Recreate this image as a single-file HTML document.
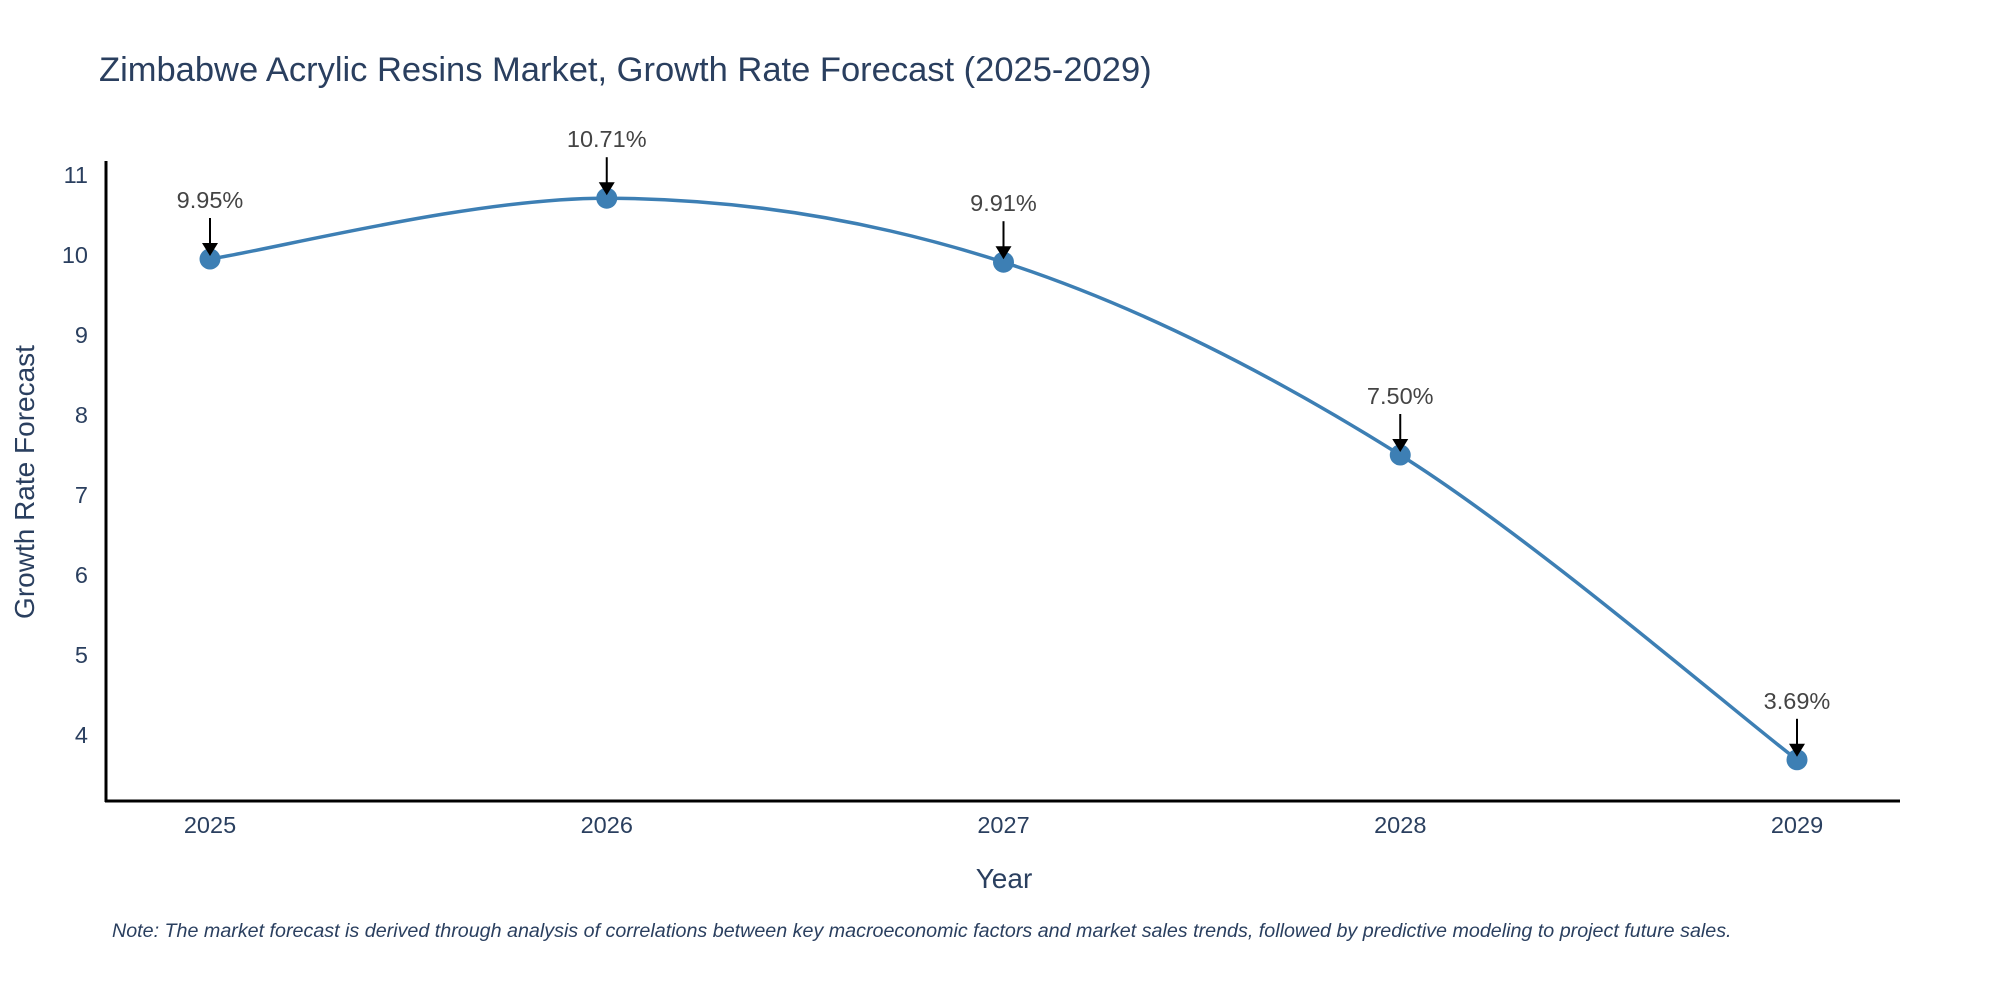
<!DOCTYPE html>
<html><head><meta charset="utf-8"><style>
html,body{margin:0;padding:0;background:#fff;}
svg{display:block;font-family:"Liberation Sans",sans-serif;}
</style></head><body>
<svg id="chart" width="2000" height="1000" viewBox="0 0 2000 1000">
<text x="99" y="81" font-size="34.5" fill="#2a3f5f">Zimbabwe Acrylic Resins Market, Growth Rate Forecast (2025-2029)</text>
<g id="yticks"></g>
<g id="xticks"></g>
<line x1="106" y1="161" x2="106" y2="802" stroke="#000" stroke-width="3"/>
<line x1="105" y1="801" x2="1900" y2="801" stroke="#000" stroke-width="3"/>
<path id="line" fill="none" stroke="#3d7fb4" stroke-width="3.5"/>
<g id="marks"></g>
<text transform="translate(34,482) rotate(-90)" text-anchor="middle" font-size="28" fill="#2a3f5f">Growth Rate Forecast</text>
<text x="1004" y="888" text-anchor="middle" font-size="28" fill="#2a3f5f">Year</text>
<text x="112" y="937" font-size="19.7" font-style="italic" fill="#2a3f5f">Note: The market forecast is derived through analysis of correlations between key macroeconomic factors and market sales trends, followed by predictive modeling to project future sales.</text>
</svg>
<script>
const years = [2025, 2026, 2027, 2028, 2029];
const values = [9.95, 10.71, 9.91, 7.50, 3.69];
const labels = ["9.95%", "10.71%", "9.91%", "7.50%", "3.69%"];
const yTicks = [4, 5, 6, 7, 8, 9, 10, 11];

const NS = "http://www.w3.org/2000/svg";
function xs(i){ return 210 + i * 396.75; }
function ys(v){ return 735 - (v - 4) * 80; }
function mk(tag, attrs, parent){ const e=document.createElementNS(NS,tag); for(const k in attrs) e.setAttribute(k,attrs[k]); parent.appendChild(e); return e; }

const yg = document.getElementById('yticks');
yTicks.forEach(t => {
  const e = mk('text', {x:88, y:ys(t)+8, 'text-anchor':'end', 'font-size':23.5, fill:'#2a3f5f'}, yg);
  
  
  e.textContent = t;
});
const xg = document.getElementById('xticks');
years.forEach((y, i) => {
  const e = mk('text', {x:xs(i), y:833, 'text-anchor':'middle', 'font-size':23.5, fill:'#2a3f5f'}, xg);
  
  
  e.textContent = y;
});

const pts = values.map((v, i) => [xs(i), ys(v)]);
let d = `M${pts[0][0]},${pts[0][1]}`;
for (let i = 0; i < pts.length - 1; i++) {
  const p0 = pts[Math.max(i-1,0)], p1 = pts[i], p2 = pts[i+1], p3 = pts[Math.min(i+2,pts.length-1)];
  const t = 1/6;
  const c1 = [p1[0] + (p2[0]-p0[0])*t, p1[1] + (p2[1]-p0[1])*t];
  const c2 = [p2[0] - (p3[0]-p1[0])*t, p2[1] - (p3[1]-p1[1])*t];
  d += ` C${c1[0]},${c1[1]} ${c2[0]},${c2[1]} ${p2[0]},${p2[1]}`;
}
document.getElementById('line').setAttribute('d', d);

const mg = document.getElementById('marks');
pts.forEach((p, i) => {
  const c = mk('circle', {cx:p[0], cy:p[1], r:10.5, fill:'#3d7fb4'}, mg);
  
  
  const l = mk('line', {x1:p[0], y1:p[1]-41, x2:p[0], y2:p[1]-12, stroke:'#000', 'stroke-width':2}, mg);
  
  
  const a = mk('path', {d:`M${p[0]-8},${p[1]-16} L${p[0]+8},${p[1]-16} L${p[0]},${p[1]-3} Z`, fill:'#000'}, mg);
  
  
  const t = mk('text', {x:p[0], y:p[1]-51, 'text-anchor':'middle', 'font-size':23.5, fill:'#444'}, mg);
  
  
  t.textContent = labels[i];
});
</script>
</body></html>
